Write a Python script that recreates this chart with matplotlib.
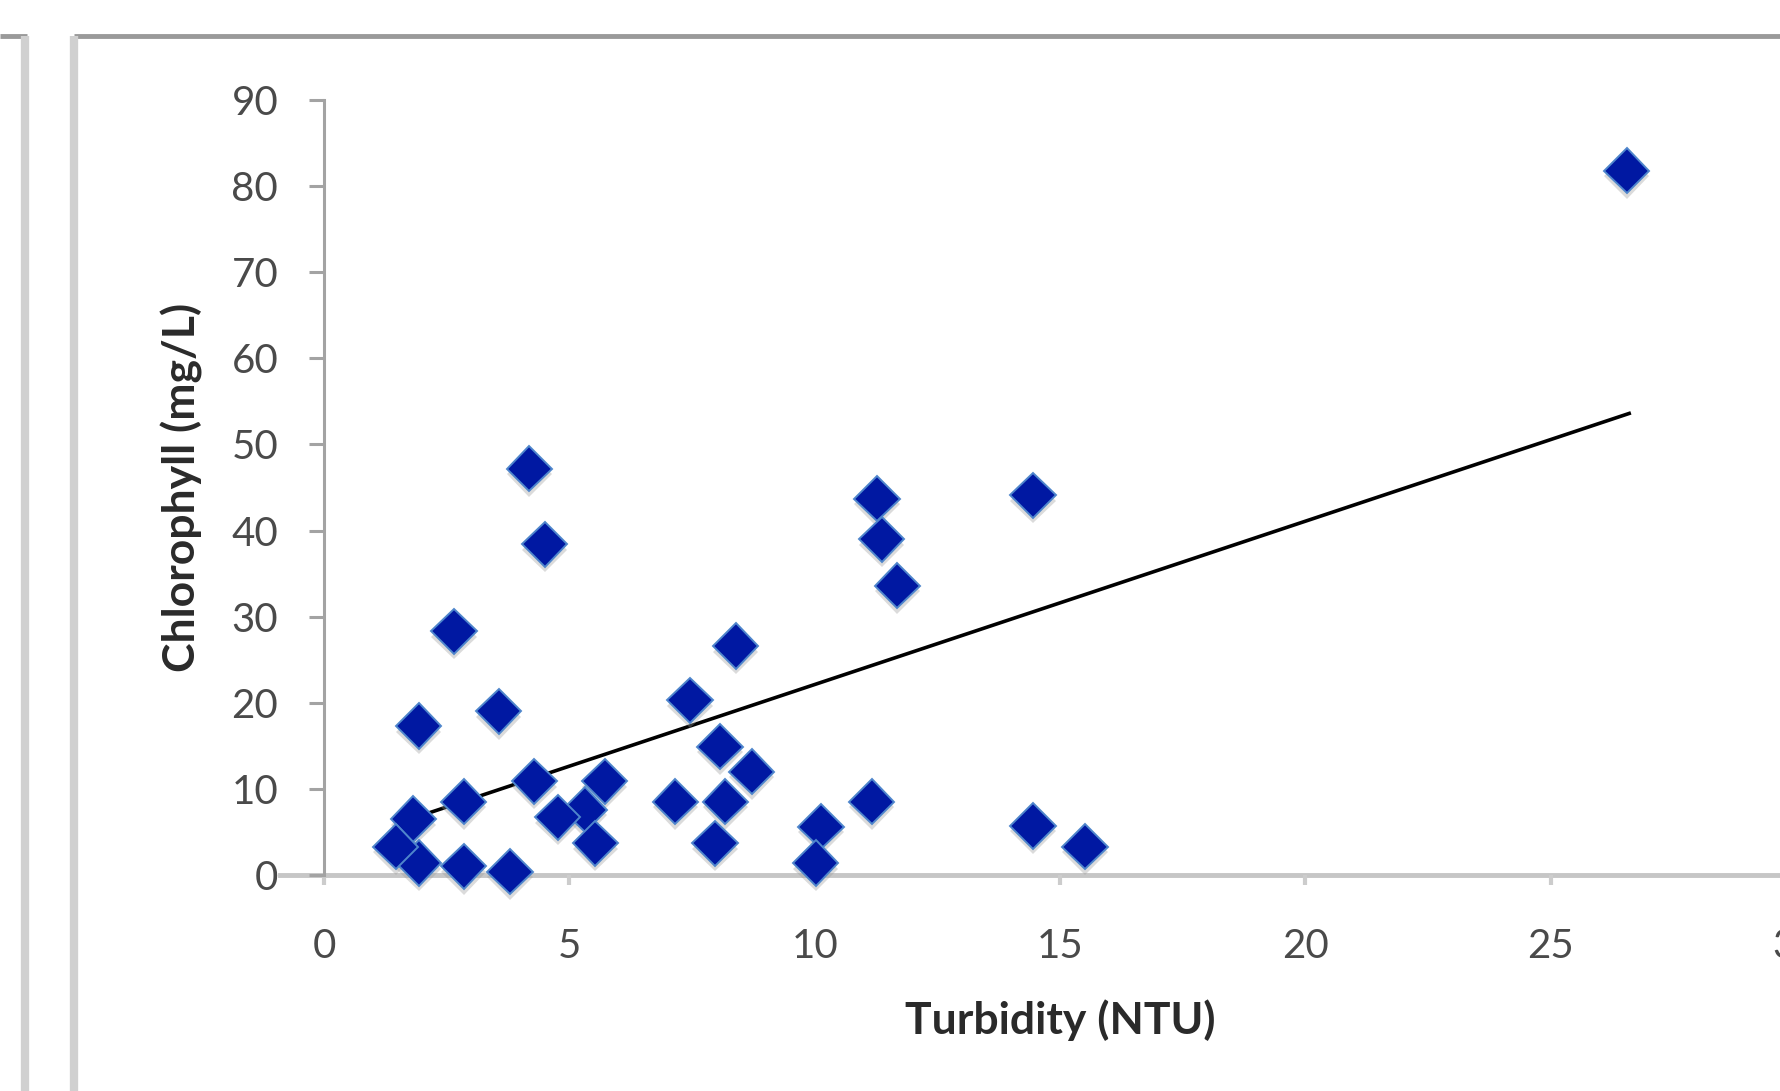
import matplotlib
matplotlib.use("Agg")
import matplotlib.pyplot as plt
import matplotlib.patheffects as pe
from matplotlib.lines import Line2D

# turbidity (NTU) vs chlorophyll (mg/L)
turbidity = [26.55, 4.18, 4.50, 2.65, 1.93, 3.56, 11.27, 11.37, 11.68, 14.45,
             8.39, 7.46, 8.07, 8.72, 8.18, 7.16, 7.97, 5.72, 4.29, 5.31,
             4.76, 5.53, 2.85, 2.85, 3.79, 1.93, 1.82, 1.46, 11.16, 10.13,
             10.02, 14.45, 15.51]
chlorophyll = [81.8, 47.2, 38.4, 28.3, 17.3, 19.0, 43.7, 39.0, 33.6, 44.1,
               26.6, 20.3, 14.9, 12.0, 8.5, 8.5, 3.7, 10.9, 10.9, 7.6,
               6.7, 3.7, 8.5, 1.0, 0.4, 1.4, 6.5, 3.3, 8.5, 5.6,
               1.4, 5.7, 3.3]

# linear trendline end points as drawn in the picture
trend_x = [1.5, 26.6]
trend_y = [6.0, 53.6]

x_ticks = [0, 5, 10, 15, 20, 25, 30]
y_ticks = [0, 10, 20, 30, 40, 50, 60, 70, 80, 90]

plt.rcParams['font.family'] = ['Lato', 'DejaVu Sans']

fig = plt.figure(figsize=(17.81, 10.91), dpi=100)
W, H = 1781, 1091

# chart frame borders (this chart + edge of the previous one)
def px_line(xs, ys, color, lw):
    fig.add_artist(Line2D([x / W for x in xs], [1 - y / H for y in ys],
                          transform=fig.transFigure, color=color, lw=lw,
                          solid_capstyle='butt'))

px_line([74, W], [36, 36], '#9a9a9a', 3.5)
px_line([0, 27], [36, 36], '#9a9a9a', 3.5)
px_line([74, 74], [36, H], '#d0d0d0', 6)
px_line([25, 25], [36, H], '#d0d0d0', 6)

ax = fig.add_axes([324 / W, 216 / H, 1472 / W, 775 / H])
ax.set_xlim(0, 30)
ax.set_ylim(0, 90)

ax.plot(trend_x, trend_y, color='black', lw=2.6, zorder=2)

ax.plot(turbidity, chlorophyll, linestyle='none', marker='D', ms=23,
        markerfacecolor='#0018a2', markeredgecolor='#4f86cc',
        markeredgewidth=1.4, zorder=3, clip_on=False,
        path_effects=[pe.SimplePatchShadow(offset=(0, -4), shadow_rgbFace='#999999', alpha=0.35),
                      pe.Normal()])

for s in ['top', 'right']:
    ax.spines[s].set_visible(False)
ax.spines['left'].set_color('#a3a3a3')
ax.spines['left'].set_linewidth(2.2)
ax.spines['bottom'].set_color('#c6c6c6')
ax.spines['bottom'].set_linewidth(3.5)
ax.spines['bottom'].set_bounds(-0.9, 30)
ax.spines['bottom'].set_zorder(1)

ax.set_xticks(x_ticks)
ax.set_yticks(y_ticks)
ax.tick_params(axis='y', direction='out', length=11, width=2.2, color='#a3a3a3',
               pad=22, labelsize=29, labelcolor='#4a4a4a')
ax.tick_params(axis='x', direction='out', length=7, width=3, color='#cccccc',
               pad=31, labelsize=29, labelcolor='#4a4a4a')

ax.set_xlabel('Turbidity (NTU)', fontsize=32, fontweight='bold', color='#2a2a2a')
ax.set_ylabel('Chlorophyll (mg/L)', fontsize=32, fontweight='bold', color='#2a2a2a')
ax.xaxis.set_label_coords(0.5, -0.187)
ax.xaxis.label.set_va('center')
ax.yaxis.set_label_coords(-0.0965, 0.5)
ax.yaxis.label.set_va('center')

fig.savefig('out.png', dpi=100)
